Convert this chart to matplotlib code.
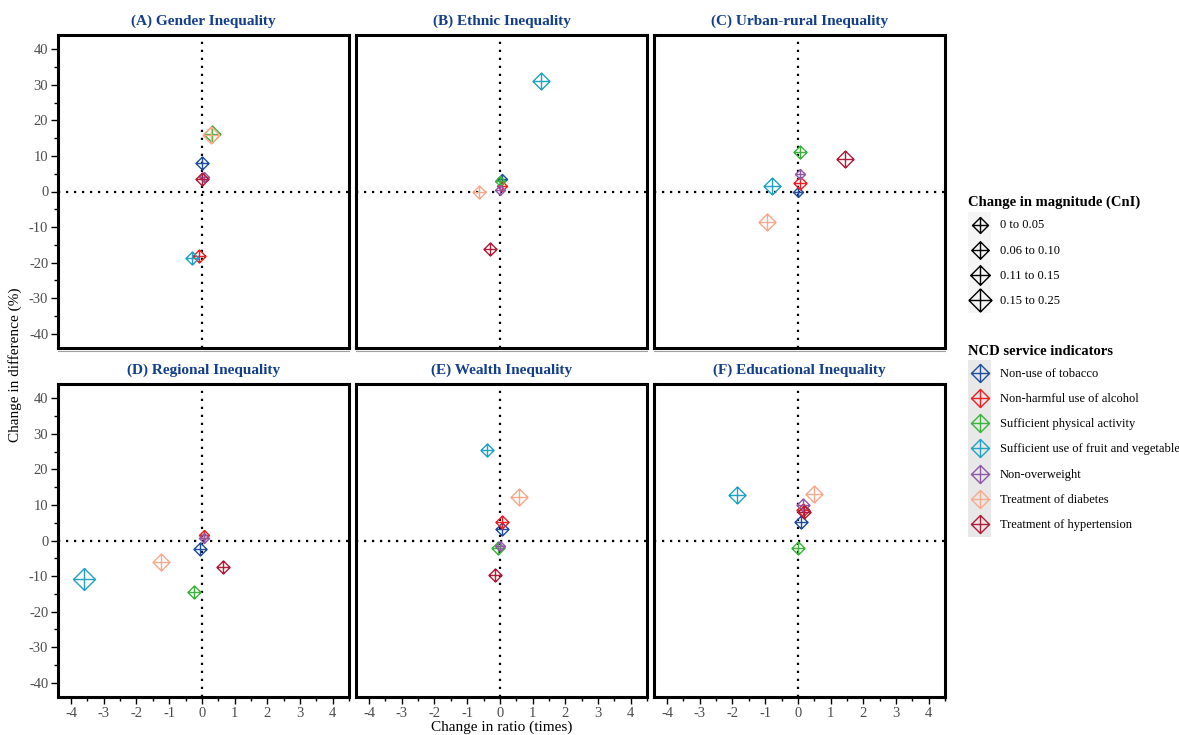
import numpy as np
import matplotlib
matplotlib.use("Agg")
import matplotlib.pyplot as plt
from matplotlib.path import Path
from matplotlib.lines import Line2D
from matplotlib.patches import Rectangle
from matplotlib.legend_handler import HandlerBase

plt.rcParams["font.family"] = ["Liberation Serif", "DejaVu Serif"]
plt.rcParams["axes.unicode_minus"] = False

# panels and indicators
panel_titles = [
    "(A) Gender Inequality",
    "(B) Ethnic Inequality",
    "(C) Urban-rural Inequality",
    "(D) Regional Inequality",
    "(E) Wealth Inequality",
    "(F) Educational Inequality",
]
indicators = [
    "Non-use of tobacco",
    "Non-harmful use of alcohol",
    "Sufficient physical activity",
    "Sufficient use of fruit and vegetable",
    "Non-overweight",
    "Treatment of diabetes",
    "Treatment of hypertension",
]
indicator_colors = ["#1f4f9e", "#ee2024", "#3cb33c", "#22a3c3",
                    "#8e5aa8", "#f9a98c", "#b11d39"]
magnitude_bins = ["0 to 0.05", "0.06 to 0.10", "0.11 to 0.15", "0.15 to 0.25"]

# change in ratio (times), one row per panel, one column per indicator
ratio_change = [
    [0.00, -0.10, 0.30, -0.30, 0.05, 0.27, 0.00],
    [0.05, 0.05, 0.00, 1.25, 0.00, -0.65, -0.30],
    [0.00, 0.05, 0.05, -0.80, 0.05, -0.95, 1.45],
    [-0.05, 0.05, -0.25, -3.60, 0.05, -1.25, 0.65],
    [0.05, 0.05, -0.05, -0.40, 0.00, 0.60, -0.15],
    [0.10, 0.15, 0.00, -1.85, 0.15, 0.50, 0.20],
]
# change in difference (%)
diff_change = [
    [8.0, -18.0, 16.2, -18.8, 4.0, 15.9, 3.5],
    [3.5, 1.5, 3.0, 31.0, 0.3, 0.0, -16.2],
    [0.0, 2.5, 11.2, 1.5, 4.8, -8.5, 9.2],
    [-2.3, 1.5, -14.6, -10.7, 0.8, -6.0, -7.5],
    [3.2, 5.2, -2.2, 25.5, -1.5, 12.3, -9.8],
    [5.2, 8.5, -2.2, 12.8, 10.0, 13.0, 8.0],
]
# magnitude bin index (CnI)
magnitude_bin = [
    [1, 1, 2, 1, 0, 2, 1],
    [0, 0, 0, 2, 0, 1, 1],
    [0, 1, 1, 2, 0, 2, 2],
    [1, 0, 1, 3, 0, 2, 1],
    [1, 1, 1, 1, 0, 2, 1],
    [1, 1, 1, 2, 1, 2, 1],
]

# diamond with a cross inside
diamond_cross = Path(
    [(0, 1), (1, 0), (0, -1), (-1, 0), (0, 1), (0, 1), (0, -1), (-1, 0), (1, 0)],
    [Path.MOVETO, Path.LINETO, Path.LINETO, Path.LINETO, Path.CLOSEPOLY,
     Path.MOVETO, Path.LINETO, Path.MOVETO, Path.LINETO],
)
marker_sizes = [7.2, 9.4, 12.2, 15.8]
legend_sizes = [11.5, 12.5, 14.0, 16.5]
title_color = "#123f8c"
tick_color = "#4d4d4d"

fig = plt.figure(figsize=(11.79, 7.35), dpi=100)
W, H = 1179.0, 735.0
lefts = [58, 356, 654]
tops = [35, 384]
aw, ah = 291, 313

for k, title in enumerate(panel_titles):
    row, col = divmod(k, 3)
    ax = fig.add_axes([lefts[col] / W, 1 - (tops[row] + ah) / H, aw / W, ah / H])
    ax.axvline(0, color="black", ls=(0, (1, 2.6)), lw=1.6, zorder=1)
    ax.axhline(0, color="black", ls=(0, (1, 2.6)), lw=1.6, zorder=1)
    for i in range(len(indicators)):
        ax.plot(ratio_change[k][i], diff_change[k][i], ls="none",
                marker=diamond_cross, ms=marker_sizes[magnitude_bin[k][i]],
                mfc="none", mec=indicator_colors[i], mew=1.0, zorder=3)
    ax.set_xlim(-4.4, 4.4)
    ax.set_ylim(-44, 44)
    ax.set_xticks(np.arange(-4, 5, 1))
    ax.set_xticks(np.arange(-4, 4.6, 0.5), minor=True)
    ax.set_yticks(np.arange(-40, 41, 10))
    ax.set_yticks(np.arange(-40, 41, 5), minor=True)
    ax.tick_params(which="major", length=5, width=1, colors="black", pad=2,
                   labelcolor=tick_color, labelsize=10.5)
    ax.tick_params(which="minor", length=3, width=1, colors="black")
    if col != 0:
        ax.tick_params(axis="y", which="both", left=False, labelleft=False)
    if row != 1:
        ax.tick_params(axis="x", which="both", bottom=False, labelbottom=False)
    for sp in ax.spines.values():
        sp.set_linewidth(2.2)
        sp.set_color("black")
    ax.set_title(title, fontsize=11, fontweight="bold", color=title_color, pad=7)

# thin grey rule above the lower row, as in the source figure
for col in range(3):
    fig.add_artist(Line2D([lefts[col] / W, (lefts[col] + aw) / W],
                          [1 - 350.5 / H, 1 - 350.5 / H],
                          color="#a0a0a0", lw=0.8))

fig.text(15 / W, 1 - 365 / H, "Change in difference (%)", rotation=90,
         ha="center", va="center", fontsize=11)
fig.text(502 / W, 1 - 727 / H, "Change in ratio (times)",
         ha="center", va="center", fontsize=11)


class KeyHandler(HandlerBase):
    def __init__(self, bg):
        super().__init__()
        self.bg = bg

    def create_artists(self, legend, orig_handle, xdescent, ydescent,
                       width, height, fontsize, trans):
        box = Rectangle((-xdescent, -ydescent - 2), width, height + 4,
                        facecolor=self.bg, edgecolor="none", transform=trans)
        mk = Line2D([width / 2 - xdescent], [height / 2 - ydescent], ls="none",
                    marker=orig_handle.get_marker(),
                    ms=orig_handle.get_markersize(), mfc="none",
                    mec=orig_handle.get_markeredgecolor(), mew=1.0,
                    transform=trans)
        return [box, mk]


size_handles = [Line2D([], [], ls="none", marker=diamond_cross, ms=s,
                       mec="black") for s in legend_sizes]
color_handles = [Line2D([], [], ls="none", marker=diamond_cross, ms=13,
                        mec=c) for c in indicator_colors]

leg_opts = dict(frameon=False, fontsize=9.0, title_fontsize=10.5,
                handlelength=1.85, handleheight=2.1, handletextpad=0.7,
                labelspacing=0.4, borderaxespad=0, borderpad=0,
                alignment="left")
leg1 = fig.legend(size_handles, magnitude_bins, loc="upper left",
                  bbox_to_anchor=(968 / W, 1 - 196 / H),
                  title="Change in magnitude (CnI)",
                  handler_map={Line2D: KeyHandler("#f5f5f5")}, **leg_opts)
leg1.get_title().set_fontweight("bold")
leg2 = fig.legend(color_handles, indicators, loc="upper left",
                  bbox_to_anchor=(968 / W, 1 - 345 / H),
                  title="NCD service indicators",
                  handler_map={Line2D: KeyHandler("#e8e8e8")}, **leg_opts)
leg2.get_title().set_fontweight("bold")

fig.savefig("out.png", dpi=100)
